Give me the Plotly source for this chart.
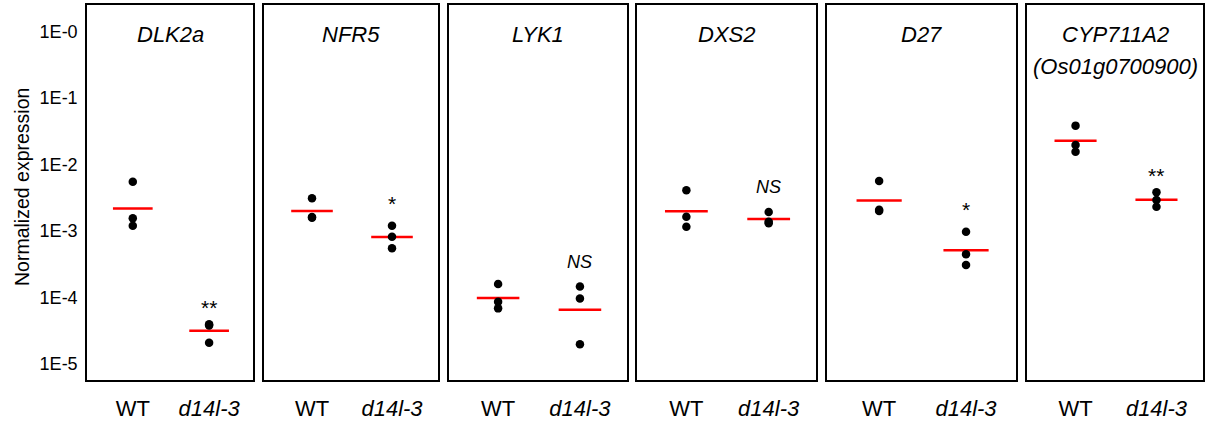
import numpy as np
import plotly.graph_objects as go

# Normalized expression values (three biological replicates per genotype)
genes = ["DLK2a", "NFR5", "LYK1", "DXS2", "D27", "CYP711A2\n(Os01g0700900)"]
genotypes = ["WT", "d14l-3"]
wt_values = [
    [5.52e-3, 1.55e-3, 1.20e-3],
    [3.10e-3, 1.62e-3, 1.58e-3],
    [1.60e-4, 8.65e-5, 6.87e-5],
    [4.09e-3, 1.64e-3, 1.16e-3],
    [5.65e-3, 2.09e-3, 2.00e-3],
    [3.84e-2, 1.96e-2, 1.56e-2],
]
mutant_values = [
    [3.98e-5, 3.80e-5, 2.09e-5],
    [1.20e-3, 8.20e-4, 5.50e-4],
    [1.46e-4, 9.70e-5, 1.98e-5],
    [1.93e-3, 1.38e-3, 1.31e-3],
    [9.77e-4, 4.46e-4, 3.08e-4],
    [3.82e-3, 2.92e-3, 2.32e-3],
]
significance = ["**", "*", "NS", "NS", "*", "**"]
ytick_values = [1, 1e-1, 1e-2, 1e-3, 1e-4, 1e-5]
ytick_labels = ["1E-0", "1E-1", "1E-2", "1E-3", "1E-4", "1E-5"]

W, H = 1207, 421
panel_px = [(87, 253), (264, 438), (449, 627), (637, 816), (827, 1016), (1027, 1203)]
top_px, bottom_px = 5, 380
FONT = "Liberation Sans, Arial, Helvetica, sans-serif"

# text style of each significance marker: (italic, font size, vertical shift in px)
sig_style = {"NS": (True, 18, 25), "*": (False, 21, 22), "**": (False, 21, 17)}

fig = go.Figure()
annotations = []

for i, gene in enumerate(genes):
    ax = "" if i == 0 else str(i + 1)
    xref, yref = f"x{ax}", f"y{ax}"
    for j, vals in enumerate([wt_values[i], mutant_values[i]]):
        gmean = 10 ** np.mean(np.log10(vals))
        # geometric-mean bar
        fig.add_trace(go.Scatter(
            x=[j - 0.26, j + 0.26], y=[gmean, gmean], mode="lines",
            line=dict(color="#ff0000", width=2.5), xaxis=xref, yaxis=yref,
            showlegend=False, hoverinfo="skip"))
        # replicate points
        fig.add_trace(go.Scatter(
            x=[j] * len(vals), y=vals, mode="markers",
            marker=dict(color="black", size=8.5), xaxis=xref, yaxis=yref,
            showlegend=False))

    # significance label above the mutant group
    sig = significance[i]
    italic, fsize, shift = sig_style[sig]
    annotations.append(dict(
        x=1, y=np.log10(max(mutant_values[i])), xref=xref, yref=yref,
        text=f"<i>{sig}</i>" if italic else sig, showarrow=False,
        xanchor="center", yanchor="middle", yshift=shift,
        font=dict(family=FONT, size=fsize, color="black")))

    # gene name inside the panel
    x0, x1 = panel_px[i]
    for k, line in enumerate(gene.split("\n")):
        annotations.append(dict(
            x=(x0 + x1) / 2 / W, y=1 - (34 + 33 * k) / H, xref="paper", yref="paper",
            text=f"<i>{line}</i>", showarrow=False, xanchor="center", yanchor="middle",
            font=dict(family=FONT, size=22, color="black")))

    axis_common = dict(showline=True, mirror=True, linecolor="black", linewidth=1.5,
                       showgrid=False, zeroline=False)
    fig.layout[f"xaxis{ax}"] = dict(
        domain=[x0 / W, x1 / W], range=[-0.6, 1.575], tickmode="array",
        tickvals=[0, 1], ticktext=[genotypes[0], f"<i>{genotypes[1]}</i>"],
        ticks="", ticklabelstandoff=8, anchor=yref,
        tickfont=dict(family=FONT, size=22, color="black"), **axis_common)
    fig.layout[f"yaxis{ax}"] = dict(
        domain=[1 - bottom_px / H, 1 - top_px / H], type="log", range=[-5.24, 0.398],
        tickmode="array", tickvals=ytick_values, ticktext=ytick_labels,
        showticklabels=(i == 0), ticks="", ticklabelstandoff=4, anchor=xref,
        tickfont=dict(family=FONT, size=18, color="black"), **axis_common)

annotations.append(dict(
    x=22 / W, y=1 - 187 / H, xref="paper", yref="paper", text="Normalized expression",
    textangle=-90, showarrow=False, xanchor="center", yanchor="middle",
    font=dict(family=FONT, size=19.5, color="black")))

fig.update_layout(
    width=W, height=H, margin=dict(l=0, r=0, t=0, b=0),
    paper_bgcolor="white", plot_bgcolor="white", annotations=annotations)

fig.write_html("out.html")
